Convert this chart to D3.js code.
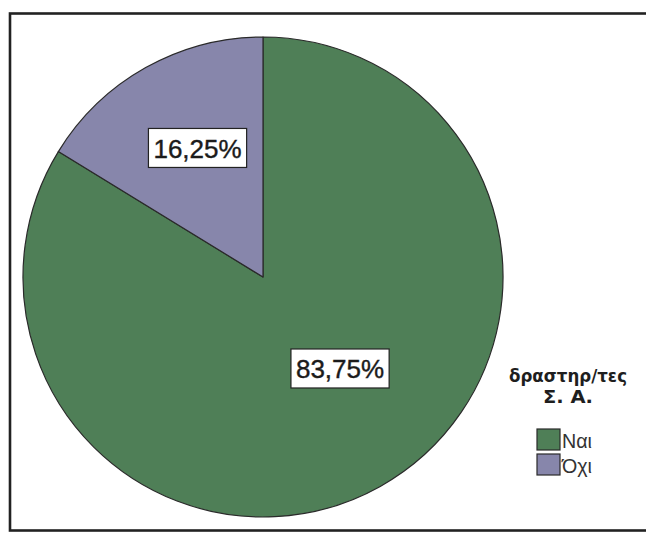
<!DOCTYPE html>
<html>
<head>
<meta charset="utf-8">
<script src="https://cdn.jsdelivr.net/npm/d3@7"></script>
<style>
  html, body { margin: 0; padding: 0; background: #fff; }
  svg { display: block; }
</style>
</head>
<body>
<svg id="chart" width="646" height="534"></svg>
<script>
// Survey answers: "active in sports" (Ναι / Όχι), share of respondents in %
const categories = ["Ναι", "Όχι"];
const percentages = [83.75, 16.25];
const legendTitle = ["δραστηρ/τες", "Σ. Α."];
const sliceColors = ["#4f7f57", "#8786ab"];

const svg = d3.select("#chart");

// outer frame (right edge runs past the window)
svg.append("rect")
  .attr("x", 10).attr("y", 13.5)
  .attr("width", 660).attr("height", 517)
  .attr("fill", "#fff")
  .attr("stroke", "#222").attr("stroke-width", 2.6);

const cx = 263, cy = 277, R = 240;

const color = d3.scaleOrdinal().domain(categories).range(sliceColors);
const pie = d3.pie().sort(null).value(d => d.value);
const arc = d3.arc().innerRadius(0).outerRadius(R);

const data = categories.map((c, i) => ({ name: c, value: percentages[i] }));
const arcs = pie(data);

const g = svg.append("g").attr("transform", `translate(${cx},${cy})`);

g.selectAll("path.slice")
  .data(arcs)
  .join("path")
  .attr("class", "slice")
  .attr("d", arc)
  .attr("fill", d => color(d.data.name))
  .attr("stroke", "#2a2a2a")
  .attr("stroke-width", 1.2)
  .attr("stroke-linejoin", "round");

// value labels: polar placement (degrees clockwise from 12 o'clock, radius)
const labelPlacement = [
  { angle: 139.9, radius: 119.6 },
  { angle: 333.1, radius: 144.7 }
];
const fmt = v => v.toFixed(2).replace(".", ",") + "%";

arcs.forEach((d, i) => {
  const p = labelPlacement[i];
  const a = p.angle * Math.PI / 180;
  const x = p.radius * Math.sin(a), y = -p.radius * Math.cos(a);
  const lg = g.append("g").attr("transform", `translate(${x},${y})`);
  const box = lg.append("rect");
  const t = lg.append("text")
    .attr("text-anchor", "middle")
    .attr("dominant-baseline", "central")
    .attr("y", 1)
    .attr("font-family", "'Liberation Sans', Arial, sans-serif")
    .attr("font-size", 26)
    .attr("fill", "#1b1b1b")
    .attr("stroke", "#1b1b1b").attr("stroke-width", 0.4)
    .text(fmt(d.data.value));
  const bb = t.node().getBBox();
  const bw = bb.width + 10, bh = 39;
  box.attr("x", -bw / 2).attr("y", -bh / 2)
    .attr("width", bw).attr("height", bh)
    .attr("fill", "#fff")
    .attr("stroke", "#222").attr("stroke-width", 1.2);
});

// legend
const lgX = 568;
svg.append("g").selectAll("text")
  .data(legendTitle)
  .join("text")
  .attr("x", lgX)
  .attr("y", (d, i) => 382 + i * 21)
  .attr("text-anchor", "middle")
  .attr("font-family", "'DejaVu Sans', Verdana, sans-serif")
  .attr("font-weight", "bold")
  .attr("font-size", 17.5)
  .attr("fill", "#1e1e1e")
  .attr("textLength", (d, i) => i === 0 ? 118 : 50)
  .attr("lengthAdjust", "spacingAndGlyphs")
  .text(d => d);

const items = svg.append("g").selectAll("g")
  .data(categories)
  .join("g")
  .attr("transform", (d, i) => `translate(537,${429 + i * 25})`);

items.append("rect")
  .attr("width", 23).attr("height", 21)
  .attr("fill", d => color(d))
  .attr("stroke", "#2a2a2a").attr("stroke-width", 1.2);

items.append("text")
  .attr("x", 25).attr("y", 19)
  .attr("font-family", "'Liberation Sans', Arial, sans-serif")
  .attr("font-size", 21)
  .attr("fill", "#333")
  .attr("textLength", 30)
  .attr("lengthAdjust", "spacingAndGlyphs")
  .text(d => d);
</script>
</body>
</html>
